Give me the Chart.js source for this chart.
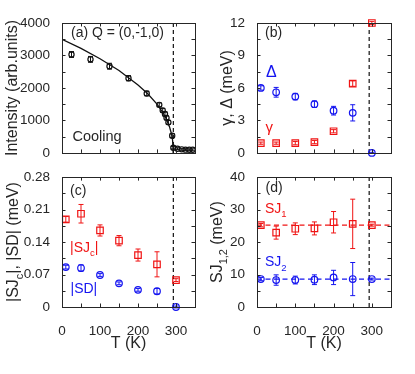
<!DOCTYPE html>
<html>
<head>
<meta charset="utf-8">
<title>Order parameter and spin-wave parameters vs T</title>
<style>
  body { margin: 0; background: #fff; }
  .panel { position: absolute; }
</style>
</head>
<body>
<div class="panel" style="left:0;top:0;width:207px;height:165px"><canvas id="chartA"></canvas></div>
<div class="panel" style="left:207px;top:0;width:208px;height:165px"><canvas id="chartB"></canvas></div>
<div class="panel" style="left:0;top:165px;width:207px;height:209px"><canvas id="chartC"></canvas></div>
<div class="panel" style="left:207px;top:165px;width:208px;height:209px"><canvas id="chartD"></canvas></div>

<script src="https://cdn.jsdelivr.net/npm/chart.js"></script>
<script>
// ---- data ----
const xTicks = [0, 100, 200, 300];
const xTickLabels = ['0', '100', '200', '300'];
const transitionT = 293;

// (a) magnetic peak intensity on cooling
const tempA = [25, 75, 125, 175, 223, 256, 265, 271, 275, 280, 290, 293, 304, 315, 325, 335, 344];
const intensityA = [3030, 2880, 2670, 2300, 1830, 1480, 1310, 1200, 1080, 940, 530, 160, 130, 110, 100, 95, 95];
const intensityErrA = [90, 90, 90, 80, 70, 60, 60, 60, 60, 60, 60, 40, 30, 30, 30, 30, 30];
const fitTempA = [0, 50, 100, 150, 200, 225, 250, 265, 275, 283, 288, 291, 293];
const fitIntensityA = [3500, 3220, 2900, 2540, 2090, 1830, 1500, 1250, 1030, 800, 590, 390, 0];
const yTicksA = [0, 1000, 2000, 3000, 4000];
const yTickLabelsA = ['0', '1000', '2000', '3000', '4000'];

// (b)-(d) fitted parameters
const tempFit = [10, 50, 100, 150, 200, 250, 300];
const deltaB = [6.0, 5.6, 5.2, 4.5, 3.9, 3.7, 0.0];
const deltaErrB = [0.2, 0.45, 0.3, 0.3, 0.4, 0.75, 0.05];
const gammaB = [0.9, 0.9, 0.9, 1.0, 2.0, 6.4, 12.0];
const gammaErrB = [0.1, 0.1, 0.15, 0.15, 0.15, 0.25, 0.15];
const yTicksB = [0, 3, 6, 9, 12];
const yTickLabelsB = ['0', '3', '6', '9', '12'];

const sjcC = [0.189, 0.201, 0.165, 0.143, 0.112, 0.092, 0.058];
const sjcErrC = [0.006, 0.02, 0.012, 0.011, 0.013, 0.027, 0.003];
const sdC = [0.086, 0.084, 0.069, 0.051, 0.037, 0.034, 0.0];
const sdErrC = [0.004, 0.007, 0.003, 0.003, 0.003, 0.006, 0.002];
const yTicksC = [0, 0.07, 0.14, 0.21, 0.28];
const yTickLabelsC = ['0', '0.07', '0.14', '0.21', '0.28'];

const sj1D = [25.2, 22.9, 24.1, 24.2, 26.1, 25.6, 25.2];
const sj1ErrD = [0.5, 2.0, 1.8, 2.0, 3.3, 7.6, 0.3];
const sj2D = [8.6, 8.3, 8.3, 8.4, 9.1, 8.6, 8.6];
const sj2ErrD = [0.5, 1.6, 1.2, 1.5, 2.2, 5.1, 0.3];
const sj1Mean = 25.2;
const sj2Mean = 8.6;
const yTicksD = [0, 10, 20, 30, 40];
const yTickLabelsD = ['0', '10', '20', '30', '40'];

// ---- styling ----
const FONT = '"Liberation Sans", Arial, Helvetica, sans-serif';
const INK = '#262626';
const RED = '#f01414';
const BLUE = '#1414f0';
Chart.defaults.font.family = FONT;
Chart.defaults.color = INK;

const pts = (xs, ys) => xs.map((x, i) => ({ x, y: ys[i] }));

// draw text with optional subscript pieces; centred on (x, y) unless left aligned
function drawRich(ctx, segs, x, y, size, color, rotate, centre) {
  ctx.save();
  ctx.translate(x, y);
  if (rotate) ctx.rotate(-Math.PI / 2);
  ctx.fillStyle = color;
  ctx.textBaseline = 'middle';
  ctx.textAlign = 'left';
  const fontFor = sub => (sub ? size * 0.68 : size) + 'px ' + FONT;
  let total = 0;
  segs.forEach(([t, sub]) => { ctx.font = fontFor(sub); total += ctx.measureText(t).width; });
  let cx = (rotate || centre) ? -total / 2 : 0;
  segs.forEach(([t, sub]) => {
    ctx.font = fontFor(sub);
    ctx.fillText(t, cx, sub ? size * 0.38 : 0);
    cx += ctx.measureText(t).width;
  });
  ctx.restore();
}

// error bars, frame, inward ticks and text
const errorBars = {
  id: 'errorBars',
  beforeDatasetsDraw(chart) {
    const { ctx, scales: { x, y } } = chart;
    chart.data.datasets.forEach(ds => {
      if (!ds.errors) return;
      ctx.save();
      ctx.strokeStyle = ds.borderColor;
      ctx.lineWidth = 1;
      ds.data.forEach((p, j) => {
        const e = ds.errors[j];
        const px = x.getPixelForValue(p.x);
        const t = y.getPixelForValue(p.y + e);
        const b = y.getPixelForValue(p.y - e);
        const cap = ds.capHalf || 2.5;
        ctx.beginPath();
        ctx.moveTo(px, t); ctx.lineTo(px, b);
        ctx.moveTo(px - cap, t); ctx.lineTo(px + cap, t);
        ctx.moveTo(px - cap, b); ctx.lineTo(px + cap, b);
        ctx.stroke();
      });
      ctx.restore();
    });
  }
};

function framePlugin(panel) {
  return {
    id: 'frame',
    afterDraw(chart) {
      const { ctx, chartArea: a, scales: { x, y } } = chart;
      ctx.save();
      ctx.strokeStyle = INK;
      ctx.lineWidth = 1;
      ctx.strokeRect(Math.round(a.left) + 0.5, Math.round(a.top) + 0.5,
        Math.round(a.right - a.left), Math.round(a.bottom - a.top));
      const tl = 3.5;
      const xs = [];
      for (let i = 0; i < xTicks.length; i++) {
        xs.push(xTicks[i]);
        const step = (xTicks[1] - xTicks[0]) / 2;
        if (xTicks[i] + step < x.max) xs.push(xTicks[i] + step);
      }
      ctx.beginPath();
      xs.forEach(v => {
        const px = Math.round(x.getPixelForValue(v)) + 0.5;
        ctx.moveTo(px, a.bottom); ctx.lineTo(px, a.bottom - tl);
        ctx.moveTo(px, a.top); ctx.lineTo(px, a.top + tl);
      });
      const yt = panel.yTicks;
      const ys = [];
      for (let i = 0; i < yt.length; i++) {
        ys.push(yt[i]);
        if (i < yt.length - 1) ys.push((yt[i] + yt[i + 1]) / 2);
      }
      ys.forEach(v => {
        const py = Math.round(y.getPixelForValue(v)) + 0.5;
        ctx.moveTo(a.left, py); ctx.lineTo(a.left + tl, py);
        ctx.moveTo(a.right, py); ctx.lineTo(a.right - tl, py);
      });
      ctx.stroke();
      ctx.restore();

      // axis titles
      drawRich(ctx, panel.yTitle, panel.yTitleX, (a.top + a.bottom) / 2, 16, INK, true);
      if (panel.xLabels) {
        drawRich(ctx, [['T (K)', 0]], (a.left + a.right) / 2, a.bottom + 37, 16, INK, false, true);
      }
      // in-panel annotations
      panel.texts.forEach(t => drawRich(ctx, t.segs, a.left + t.dx, a.top + t.dy, t.size, t.color, false));
    }
  };
}

function makePanel(id, panel) {
  return new Chart(document.getElementById(id), {
    type: 'scatter',
    data: { datasets: panel.datasets },
    options: {
      responsive: true,
      maintainAspectRatio: false,
      animation: false,
      events: [],
      layout: { padding: panel.padding },
      plugins: { legend: { display: false }, tooltip: { enabled: false } },
      scales: {
        x: {
          type: 'linear', min: 0, max: 350,
          grid: { display: false }, border: { display: false },
          afterBuildTicks: s => { s.ticks = xTicks.map(v => ({ value: v })); },
          afterFit: s => { s.height = panel.xHeight; },
          ticks: {
            display: panel.xLabels, padding: 8, maxRotation: 0, autoSkip: false,
            font: { size: 13.5 }, color: INK,
            callback: (v, i) => xTickLabels[i]
          }
        },
        y: {
          type: 'linear', min: panel.yTicks[0], max: panel.yTicks[panel.yTicks.length - 1],
          grid: { display: false }, border: { display: false },
          afterBuildTicks: s => { s.ticks = panel.yTicks.map(v => ({ value: v })); },
          afterFit: s => { s.width = panel.yWidth; },
          ticks: {
            padding: 4, autoSkip: false, font: { size: 13.5 }, color: INK,
            callback: (v, i) => panel.yTickLabels[i]
          }
        }
      }
    },
    plugins: [errorBars, framePlugin(panel)]
  });
}

function marks(xs, ys, errs, color, style, radius) {
  return {
    data: pts(xs, ys), errors: errs, showLine: false, clip: false,
    borderColor: color, backgroundColor: 'rgba(255,255,255,0)',
    pointStyle: style, pointRadius: radius, pointBorderWidth: 1.2
  };
}
function line(xs, ys, color, dash, width) {
  return {
    data: pts(xs, ys), showLine: true, pointRadius: 0, borderColor: color,
    borderWidth: width, borderDash: dash, fill: false, tension: 0
  };
}

makePanel('chartA', {
  padding: { top: 23, right: 12, left: 0, bottom: 0 }, yWidth: 62, xHeight: 12, xLabels: false,
  yTicks: yTicksA, yTickLabels: yTickLabelsA, yTitleX: 13,
  yTitle: [['Intensity (arb.units)', 0]],
  datasets: [
    marks(tempA, intensityA, intensityErrA, '#111', 'circle', 2.6),
    line(fitTempA, fitIntensityA, '#111', [], 1.3),
    line([transitionT, transitionT], [0, 4000], '#111', [4, 3], 1.2)
  ],
  texts: [
    { segs: [['(a) Q = (0,-1,0)', 0]], dx: 9, dy: 10.5, size: 14, color: INK },
    { segs: [['Cooling', 0]], dx: 10.5, dy: 113.5, size: 14.5, color: INK }
  ]
});

makePanel('chartB', {
  padding: { top: 23, right: 24, left: 0, bottom: 0 }, yWidth: 50, xHeight: 12, xLabels: false,
  yTicks: yTicksB, yTickLabels: yTickLabelsB, yTitleX: 20.5,
  yTitle: [['γ, Δ (meV)', 0]],
  datasets: [
    marks(tempFit, deltaB, deltaErrB, BLUE, 'circle', 3.3),
    marks(tempFit, gammaB, gammaErrB, RED, 'rect', 4.6),
    line([transitionT, transitionT], [0, 12], '#111', [4, 3], 1.2)
  ],
  texts: [
    { segs: [['(b)', 0]], dx: 8, dy: 10.5, size: 14, color: INK },
    { segs: [['Δ', 0]], dx: 9, dy: 49.5, size: 16, color: BLUE },
    { segs: [['γ', 0]], dx: 8.5, dy: 104.5, size: 15, color: RED }
  ]
});

makePanel('chartC', {
  padding: { top: 10, right: 12, left: 0, bottom: 0 }, yWidth: 62, xHeight: 67, xLabels: true,
  yTicks: yTicksC, yTickLabels: yTickLabelsC, yTitleX: 14,
  yTitle: [['|SJ', 0], ['c', 1], ['|, |SD| (meV)', 0]],
  datasets: [
    marks(tempFit, sdC, sdErrC, BLUE, 'circle', 3.3),
    marks(tempFit, sjcC, sjcErrC, RED, 'rect', 4.6),
    line([transitionT, transitionT], [0, 0.28], '#111', [4, 3], 1.2)
  ],
  texts: [
    { segs: [['(c)', 0]], dx: 8, dy: 14, size: 14, color: INK },
    { segs: [['|SJ', 0], ['c', 1], ['|', 0]], dx: 8, dy: 71, size: 14, color: RED },
    { segs: [['|SD|', 0]], dx: 8.5, dy: 112, size: 14, color: BLUE }
  ]
});

makePanel('chartD', {
  padding: { top: 10, right: 24, left: 0, bottom: 0 }, yWidth: 50, xHeight: 67, xLabels: true,
  yTicks: yTicksD, yTickLabels: yTickLabelsD, yTitleX: 11,
  yTitle: [['SJ', 0], ['1,2', 1], [' (meV)', 0]],
  datasets: [
    marks(tempFit, sj1D, sj1ErrD, RED, 'rect', 4.6),
    marks(tempFit, sj2D, sj2ErrD, BLUE, 'circle', 3.3),
    line([0, 350], [sj1Mean, sj1Mean], RED, [5, 3.5], 1.3),
    line([0, 350], [sj2Mean, sj2Mean], BLUE, [5, 3.5], 1.3),
    line([transitionT, transitionT], [0, 40], '#111', [4, 3], 1.2)
  ],
  texts: [
    { segs: [['(d)', 0]], dx: 8.5, dy: 11.5, size: 14, color: INK },
    { segs: [['SJ', 0], ['1', 1]], dx: 8, dy: 32, size: 14, color: RED },
    { segs: [['SJ', 0], ['2', 1]], dx: 8, dy: 85.5, size: 14, color: BLUE }
  ]
});
</script>
</body>
</html>
